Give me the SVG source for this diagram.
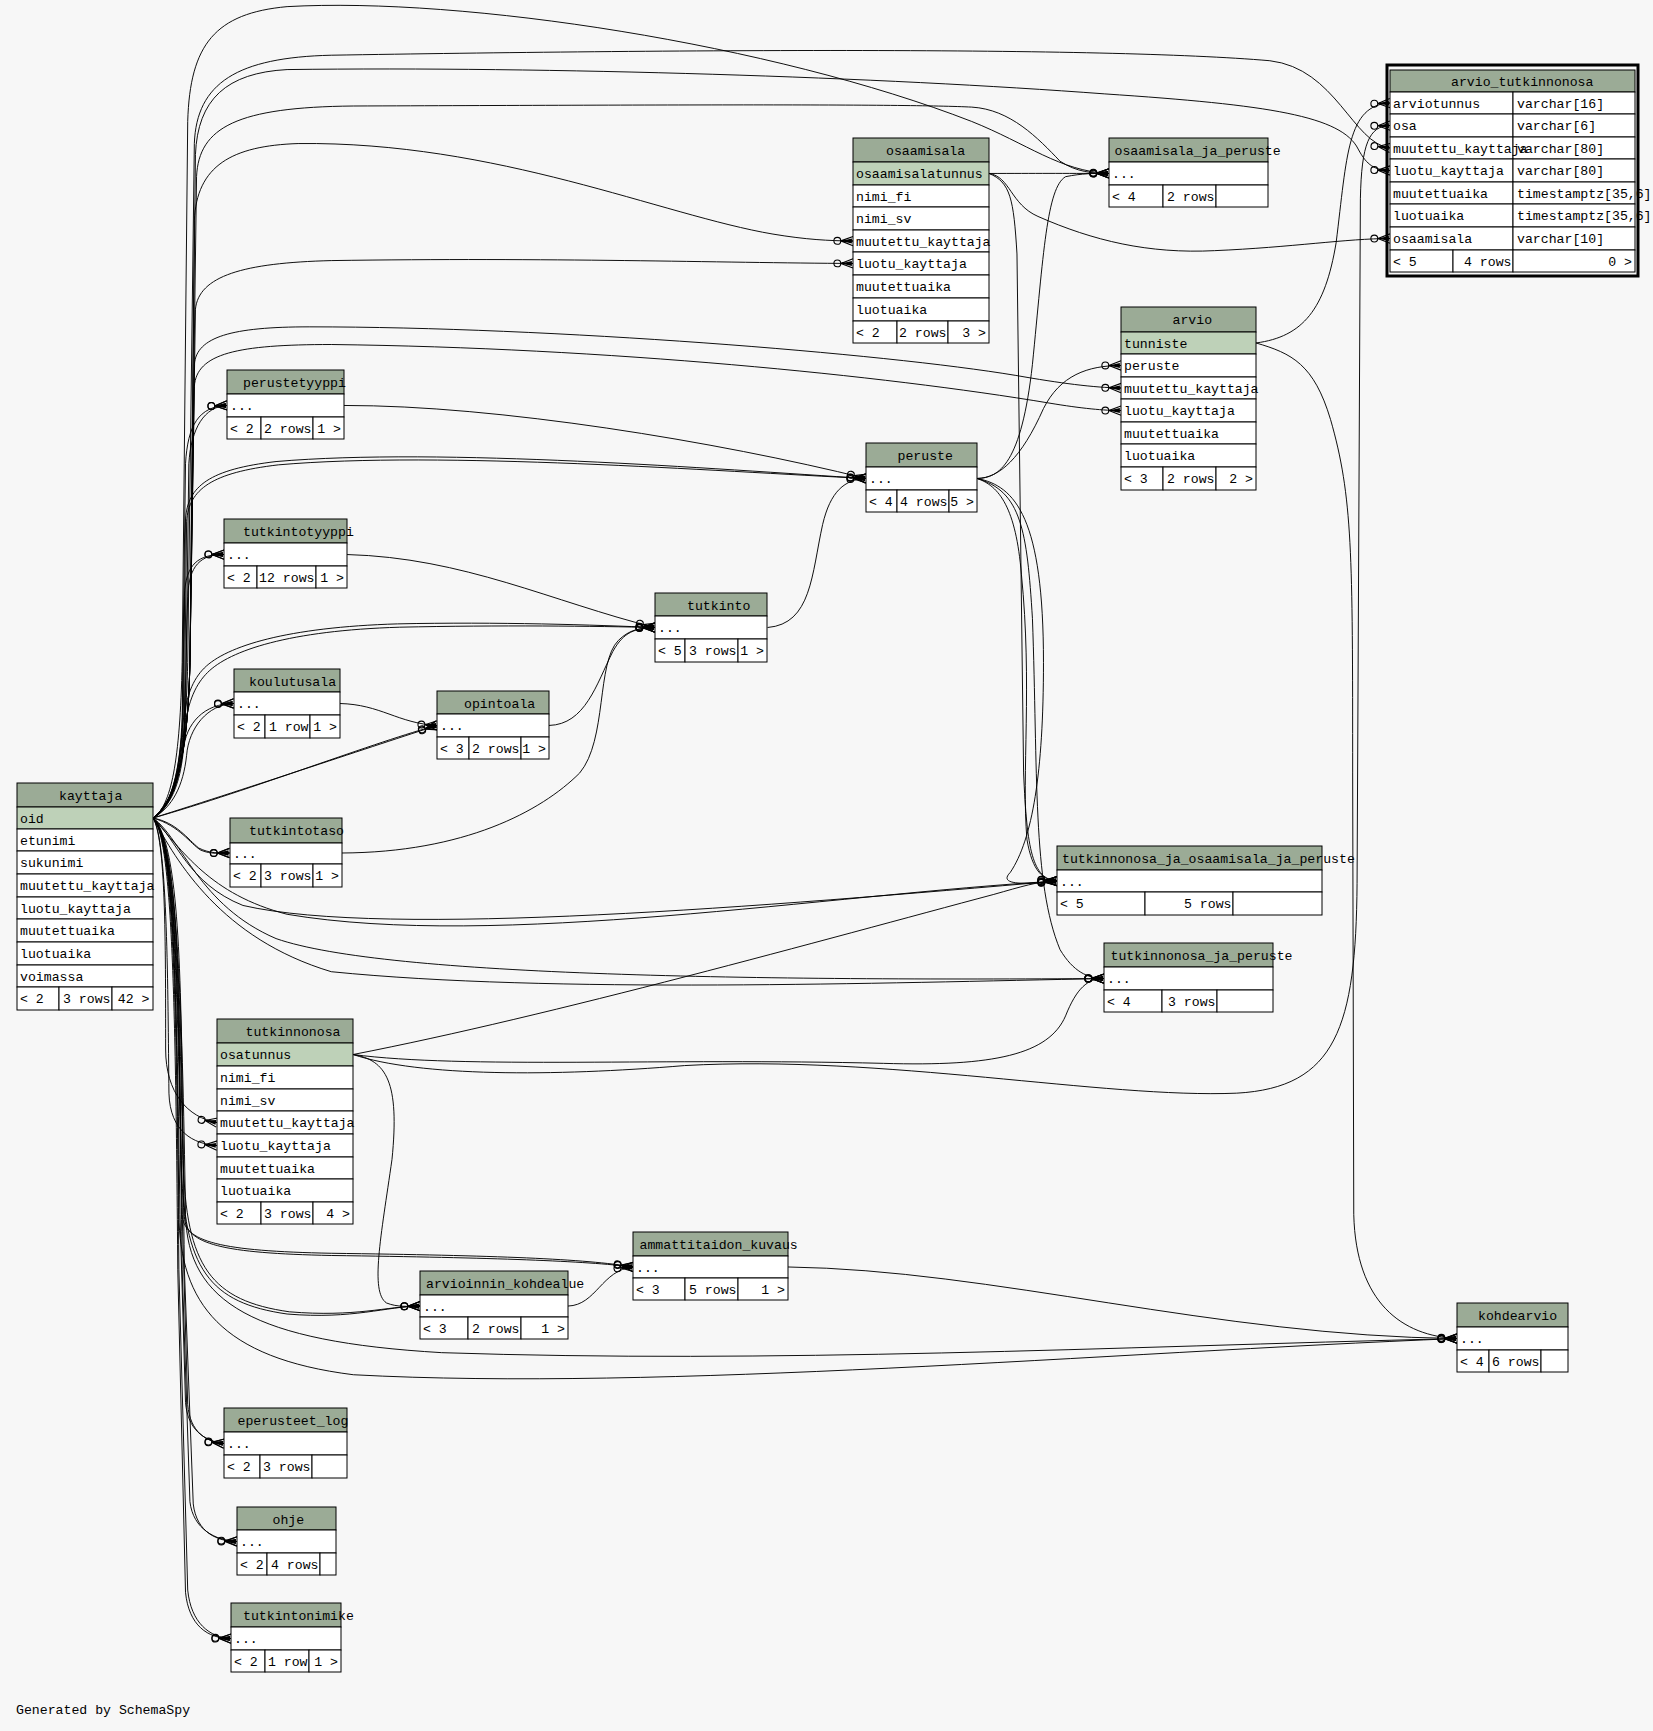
<svg xmlns="http://www.w3.org/2000/svg" width="1653" height="1731" viewBox="0 0 1653 1731">
<style>
text{font-family:"Liberation Mono","DejaVu Sans Mono",monospace;font-size:13.2px;fill:#000}
.h{fill:#9bab96;stroke:#000;stroke-width:1}
.k{fill:#bed1b8;stroke:#000;stroke-width:1}
.r{fill:#fff;stroke:#000;stroke-width:1}
.e{fill:none;stroke:#000;stroke-width:0.85;marker-end:url(#cf)}
.end{text-anchor:end}
</style>
<defs>
<marker id="cf" markerUnits="userSpaceOnUse" orient="auto" markerWidth="24" markerHeight="14" viewBox="-22 -7 24 14" refX="0" refY="0" overflow="visible">
<path d="M-11,0 L0,-4.2 M-11,0 L0,0 M-11,0 L0,4.2" stroke="#000" stroke-width="1" fill="none"/>
<path d="M-11,0 L-1,-2.2 L-1,2.2 Z" fill="#000"/>
<circle cx="-14.2" cy="0" r="3.1" fill="none" stroke="#000" stroke-width="1"/>
</marker>
</defs>
<rect x="0" y="0" width="1653" height="1731" fill="#f7f7f7"/>

<g id="connectors" transform="scale(1.10421)">
<path class="e" d="M895.7,157.1 C940,157 960,157 1004.3,157.1"/>
<path class="e" d="M895.7,157.1 C915,160 915,185 940,196 C990,218 1040,230 1100,227 C1170,224 1220,216 1258.8,216"/>
<path class="e" d="M895.7,157.1 C915,165 918,180 921,230 L927,700 C930,770 935,796 957.2,797.9"/>
<path class="e" d="M1137.5,310.6 C1180,305 1200,280 1210,220 C1220,140 1220,95 1258.8,93.3"/>
<path class="e" d="M1137.5,310.6 C1170,320 1190,330 1205,380 C1225,450 1225,500 1225,700 L1226,1100 C1228,1180 1270,1210 1319.5,1212.2"/>
<path class="e" d="M319.7,955 C380,975 500,975 620,965 C800,955 1000,995 1120,990 C1210,985 1228,930 1229,800 L1232,180 C1233,130 1240,114 1258.8,113.7"/>
<path class="e" d="M319.7,955 C500,920 750,850 900,810 C925,803 940,798 957.2,797.9"/>
<path class="e" d="M319.7,955 C420,968 600,958 800,963 C900,966 950,955 965,920 C975,895 985,886 999.8,886.2"/>
<path class="e" d="M319.7,955 C350,960 362,980 355,1050 C345,1120 335,1170 350,1180 C360,1184 370,1183 380.4,1182.8"/>
<path class="e" d="M884.8,433.3 C905,433 925,415 945,370 C960,340 985,331 1015.2,331"/>
<path class="e" d="M884.8,433.3 C905,433 925,420 935,330 C945,230 948,170 965,160 C980,157 990,157 1004.3,157.1"/>
<path class="e" d="M884.8,433.3 C905,440 920,460 925,520 C935,620 925,700 930,760 C935,790 945,797 957.2,797.9"/>
<path class="e" d="M884.8,433.3 C920,440 945,470 945,600 C945,700 935,760 915,790 C905,800 920,802 957.2,797.9"/>
<path class="e" d="M884.8,433.3 C925,445 930,480 935,560 C940,700 935,800 960,860 C972,880 985,886 999.8,886.2"/>
<path class="e" d="M311.5,367.2 C450,367 650,400 784.3,433.3"/>
<path class="e" d="M695.1,568.3 C735,565 735,520 745,475 C752,445 765,434 784.3,433.3"/>
<path class="e" d="M314.3,502.2 C420,505 500,545 593.2,568.3"/>
<path class="e" d="M497.2,657 C530,656 540,620 555,590 C565,572 575,569 593.2,568.3"/>
<path class="e" d="M309.4,772.5 C420,772 490,735 525,700 C550,670 540,600 560,580 C570,570 580,568.5 593.2,568.3"/>
<path class="e" d="M307.6,637.1 C345,638 360,655 395.8,657"/>
<path class="e" d="M514.4,1182.8 C540,1182 545,1150 573.3,1147.4"/>
<path class="e" d="M713.6,1147.4 C900,1150 1100,1210 1319.5,1212.2"/>
<path class="e" d="M138.6,740.8 C155,730 163,690 165,600 L170,110 C172,40 195,12 260,6 C420,-3 700,40 880,110 C930,130 960,155 1004.3,157.1"/>
<path class="e" d="M138.6,740.8 C158,728 170,690 172,600 L178,160 C180,115 215,97 320,96 C600,95 820,94 880,97 C915,99 940,125 960,146 C975,156 990,157 1004.3,157.1"/>
<path class="e" d="M138.6,740.8 C157,728 168,690 170,600 L176,130 C178,75 215,52 300,50 C600,45 1000,42 1150,55 C1210,62 1225,130 1258.8,134"/>
<path class="e" d="M138.6,740.8 C158,728 170,690 172,600 L177,140 C179,90 205,66 260,63 C500,60 800,70 1000,85 C1150,95 1215,105 1230,135 C1238,150 1245,154 1258.8,154.4"/>
<path class="e" d="M138.6,740.8 C158,725 170,690 172,600 L176,200 C178,150 210,132 270,130 C450,128 600,195 700,212 C730,217 750,218 772.5,218.3"/>
<path class="e" d="M138.6,740.8 C158,725 170,690 172,600 L177,280 C180,250 220,238 300,236 C500,233 650,238 772.5,238.6"/>
<path class="e" d="M138.6,740.8 C158,725 170,690 172,600 L176,330 C178,305 210,296 280,296 C500,296 800,320 920,340 C960,347 990,351 1015.2,351.4"/>
<path class="e" d="M138.6,740.8 C158,725 170,690 172,600 L176,350 C178,320 215,312 300,312 C550,315 800,340 950,365 C980,370 1000,371.8 1015.2,371.8"/>
<path class="e" d="M138.6,740.8 C155,730 163,700 165,650 L168,420 C170,385 180,368 205.6,367.2"/>
<path class="e" d="M138.6,740.8 C156,730 166,700 168,650 L171,420 C173,388 185,368 205.6,367.2"/>
<path class="e" d="M138.6,740.8 C156,728 165,700 166,650 L168,470 C170,440 190,425 250,418 C400,405 650,425 784.3,433.3"/>
<path class="e" d="M138.6,740.8 C157,728 166,700 167,650 L169,472 C171,443 192,428 252,421 C400,408 650,427 784.3,433.3"/>
<path class="e" d="M138.6,740.8 C156,730 163,700 165,660 L167,540 C168,510 180,502 202.9,502.2"/>
<path class="e" d="M138.6,740.8 C157,730 165,700 167,660 L170,540 C171,512 182,502 202.9,502.2"/>
<path class="e" d="M138.6,740.8 C155,732 162,700 165,660 C168,630 175,615 185,605 C205,585 260,568 360,565 C450,563 540,566 593.2,568.3"/>
<path class="e" d="M138.6,740.8 C156,732 164,700 167,662 C170,634 178,619 188,609 C208,589 262,571 362,568 C452,566 540,567 593.2,568.3"/>
<path class="e" d="M138.6,740.8 C155,730 163,710 166,680 C168,655 185,637 211.6,637.1"/>
<path class="e" d="M138.6,740.8 C156,731 166,712 169,684 C171,659 188,638 211.6,637.1"/>
<path class="e" d="M138.6,740.8 C230,712 340,675 395.8,657"/>
<path class="e" d="M138.6,740.8 C226,716 345,670 395.8,657"/>
<path class="e" d="M138.6,740.8 C160,745 170,760 180,768 C190,773 198,772.5 207.8,772.5"/>
<path class="e" d="M138.6,740.8 C163,748 172,764 182,770 C192,774 199,772.5 207.8,772.5"/>
<path class="e" d="M138.6,740.8 C160,760 170,800 220,820 C350,850 700,820 957.2,797.9"/>
<path class="e" d="M138.6,740.8 C165,770 190,810 260,828 C450,860 750,810 957.2,797.9"/>
<path class="e" d="M138.6,740.8 C165,760 180,820 250,850 C350,885 700,888 999.8,886.2"/>
<path class="e" d="M138.6,740.8 C160,780 200,850 300,880 C500,900 800,890 999.8,886.2"/>
<path class="e" d="M138.6,740.8 C150,760 150,850 150,950 C150,990 170,1012 196.5,1016.6"/>
<path class="e" d="M138.6,740.8 C152,760 152,900 153,990 C154,1025 175,1036 196.5,1037.4"/>
<path class="e" d="M138.6,740.8 C158,760 162,850 163,1000 L165,1100 C166,1125 200,1133 300,1135 C450,1137 530,1140 573.3,1147.4"/>
<path class="e" d="M138.6,740.8 C159,760 164,850 165,1000 L167,1102 C168,1127 202,1135 300,1137 C450,1139 530,1142 573.3,1147.4"/>
<path class="e" d="M138.6,740.8 C158,760 162,900 164,1050 C166,1150 190,1180 260,1190 C320,1195 350,1183 380.4,1182.8"/>
<path class="e" d="M138.6,740.8 C159,760 164,900 166,1050 C168,1148 192,1178 262,1188 C322,1193 350,1183 380.4,1182.8"/>
<path class="e" d="M138.6,740.8 C158,760 160,900 162,1100 C163,1180 200,1230 320,1245 C600,1260 1000,1225 1319.5,1212.2"/>
<path class="e" d="M138.6,740.8 C160,760 165,900 168,1100 C170,1180 230,1215 400,1225 C700,1235 1000,1220 1319.5,1212.2"/>
<path class="e" d="M138.6,740.8 C158,760 160,900 163,1100 L168,1270 C170,1295 185,1305 202.9,1307.3"/>
<path class="e" d="M138.6,740.8 C159,760 162,900 165,1100 L170,1272 C172,1297 187,1306 202.9,1307.3"/>
<path class="e" d="M138.6,740.8 C158,760 162,900 165,1150 L172,1360 C175,1385 195,1395 214.6,1396"/>
<path class="e" d="M138.6,740.8 C159,760 164,900 167,1150 L175,1362 C178,1388 197,1396 214.6,1396"/>
<path class="e" d="M138.6,740.8 C157,760 160,900 162,1150 L170,1440 C173,1470 190,1483 209.2,1483.9"/>
<path class="e" d="M138.6,740.8 C156,760 159,900 161,1150 L168,1442 C171,1472 188,1484 209.2,1483.9"/>
</g>

<g id="arvio_tutkinnonosa">
<rect x="1387" y="65" width="251" height="211" fill="none" stroke="#000" stroke-width="3"/>
<rect class="h" x="1390" y="70" width="245" height="22"/>
<text x="1451" y="86">arvio_tutkinnonosa</text>
<rect class="r" x="1390" y="92" width="123" height="22"/><rect class="r" x="1513" y="92" width="122" height="22"/>
<rect class="r" x="1390" y="114" width="123" height="23"/><rect class="r" x="1513" y="114" width="122" height="23"/>
<rect class="r" x="1390" y="137" width="123" height="22"/><rect class="r" x="1513" y="137" width="122" height="22"/>
<rect class="r" x="1390" y="159" width="123" height="23"/><rect class="r" x="1513" y="159" width="122" height="23"/>
<rect class="r" x="1390" y="182" width="123" height="22"/><rect class="r" x="1513" y="182" width="122" height="22"/>
<rect class="r" x="1390" y="204" width="123" height="23"/><rect class="r" x="1513" y="204" width="122" height="23"/>
<rect class="r" x="1390" y="227" width="123" height="23"/><rect class="r" x="1513" y="227" width="122" height="23"/>
<rect class="r" x="1390" y="250" width="63" height="22"/><rect class="r" x="1453" y="250" width="60" height="22"/><rect class="r" x="1513" y="250" width="122" height="22"/>
<text x="1393" y="107.5">arviotunnus</text><text x="1517" y="107.5">varchar[16]</text>
<text x="1393" y="130">osa</text><text x="1517" y="130">varchar[6]</text>
<text x="1393" y="152.5">muutettu_kayttaja</text><text x="1517" y="152.5">varchar[80]</text>
<text x="1393" y="175">luotu_kayttaja</text><text x="1517" y="175">varchar[80]</text>
<text x="1393" y="197.5">muutettuaika</text><text x="1517" y="197.5">timestamptz[35,6]</text>
<text x="1393" y="220">luotuaika</text><text x="1517" y="220">timestamptz[35,6]</text>
<text x="1393" y="243">osaamisala</text><text x="1517" y="243">varchar[10]</text>
<text x="1393" y="265.5">&lt; 5</text><text class="end" x="1511.5" y="265.5">4 rows</text><text class="end" x="1632" y="265.5">0 &gt;</text>
</g>

<g id="osaamisala">
<rect class="h" x="853" y="138" width="136" height="24"/>
<text x="886" y="154.5">osaamisala</text>
<rect class="k" x="853" y="162" width="136" height="23"/><text x="856" y="177.5">osaamisalatunnus</text>
<rect class="r" x="853" y="185" width="136" height="22"/><text x="856" y="200.5">nimi_fi</text>
<rect class="r" x="853" y="207" width="136" height="23"/><text x="856" y="222.5">nimi_sv</text>
<rect class="r" x="853" y="230" width="136" height="22"/><text x="856" y="245.5">muutettu_kayttaja</text>
<rect class="r" x="853" y="252" width="136" height="23"/><text x="856" y="267.5">luotu_kayttaja</text>
<rect class="r" x="853" y="275" width="136" height="23"/><text x="856" y="290.5">muutettuaika</text>
<rect class="r" x="853" y="298" width="136" height="23"/><text x="856" y="313.5">luotuaika</text>
<rect class="r" x="853" y="321" width="44" height="22"/><rect class="r" x="897" y="321" width="51" height="22"/><rect class="r" x="948" y="321" width="41" height="22"/>
<text x="856" y="336.5">&lt; 2</text><text class="end" x="946.5" y="336.5">2 rows</text><text class="end" x="986" y="336.5">3 &gt;</text>
</g>

<g id="osaamisala_ja_peruste">
<rect class="h" x="1109" y="138" width="159" height="24"/>
<text x="1114.5" y="154.5">osaamisala_ja_peruste</text>
<rect class="r" x="1109" y="162" width="159" height="23"/><text x="1112" y="177.5">...</text>
<rect class="r" x="1109" y="185" width="54" height="22"/><rect class="r" x="1163" y="185" width="53" height="22"/><rect class="r" x="1216" y="185" width="52" height="22"/>
<text x="1112" y="200.5">&lt; 4</text><text class="end" x="1214.5" y="200.5">2 rows</text>
</g>

<g id="arvio">
<rect class="h" x="1121" y="307" width="135" height="25"/>
<text x="1172.5" y="324">arvio</text>
<rect class="k" x="1121" y="332" width="135" height="22"/><text x="1124" y="347.5">tunniste</text>
<rect class="r" x="1121" y="354" width="135" height="23"/><text x="1124" y="369.5">peruste</text>
<rect class="r" x="1121" y="377" width="135" height="22"/><text x="1124" y="392.5">muutettu_kayttaja</text>
<rect class="r" x="1121" y="399" width="135" height="23"/><text x="1124" y="414.5">luotu_kayttaja</text>
<rect class="r" x="1121" y="422" width="135" height="22"/><text x="1124" y="437.5">muutettuaika</text>
<rect class="r" x="1121" y="444" width="135" height="23"/><text x="1124" y="459.5">luotuaika</text>
<rect class="r" x="1121" y="467" width="42" height="23"/><rect class="r" x="1163" y="467" width="53" height="23"/><rect class="r" x="1216" y="467" width="40" height="23"/>
<text x="1124" y="482.5">&lt; 3</text><text class="end" x="1214.5" y="482.5">2 rows</text><text class="end" x="1253" y="482.5">2 &gt;</text>
</g>

<g id="perustetyyppi">
<rect class="h" x="227" y="370" width="117" height="24"/>
<text x="243" y="386.5">perustetyyppi</text>
<rect class="r" x="227" y="394" width="117" height="23"/><text x="230" y="409.5">...</text>
<rect class="r" x="227" y="417" width="34" height="22"/><rect class="r" x="261" y="417" width="52" height="22"/><rect class="r" x="313" y="417" width="31" height="22"/>
<text x="230" y="432.5">&lt; 2</text><text class="end" x="311.5" y="432.5">2 rows</text><text class="end" x="341" y="432.5">1 &gt;</text>
</g>

<g id="peruste">
<rect class="h" x="866" y="443" width="111" height="24"/>
<text x="897.5" y="459.5">peruste</text>
<rect class="r" x="866" y="467" width="111" height="23"/><text x="869" y="482.5">...</text>
<rect class="r" x="866" y="490" width="31" height="22"/><rect class="r" x="897" y="490" width="52" height="22"/><rect class="r" x="949" y="490" width="28" height="22"/>
<text x="869" y="505.5">&lt; 4</text><text class="end" x="947.5" y="505.5">4 rows</text><text class="end" x="974" y="505.5">5 &gt;</text>
</g>

<g id="tutkintotyyppi">
<rect class="h" x="224" y="519" width="123" height="24"/>
<text x="243" y="535.5">tutkintotyyppi</text>
<rect class="r" x="224" y="543" width="123" height="23"/><text x="227" y="558.5">...</text>
<rect class="r" x="224" y="566" width="33" height="22"/><rect class="r" x="257" y="566" width="59" height="22"/><rect class="r" x="316" y="566" width="31" height="22"/>
<text x="227" y="581.5">&lt; 2</text><text class="end" x="314.5" y="581.5">12 rows</text><text class="end" x="344" y="581.5">1 &gt;</text>
</g>

<g id="tutkinto">
<rect class="h" x="655" y="593" width="112" height="23"/>
<text x="687" y="609.5">tutkinto</text>
<rect class="r" x="655" y="616" width="112" height="23"/><text x="658" y="631.5">...</text>
<rect class="r" x="655" y="639" width="30" height="23"/><rect class="r" x="685" y="639" width="53" height="23"/><rect class="r" x="738" y="639" width="29" height="23"/>
<text x="658" y="654.5">&lt; 5</text><text class="end" x="736.5" y="654.5">3 rows</text><text class="end" x="764" y="654.5">1 &gt;</text>
</g>

<g id="koulutusala">
<rect class="h" x="234" y="669" width="106" height="23"/>
<text x="249" y="685.5">koulutusala</text>
<rect class="r" x="234" y="692" width="106" height="23"/><text x="237" y="707.5">...</text>
<rect class="r" x="234" y="715" width="31" height="23"/><rect class="r" x="265" y="715" width="45" height="23"/><rect class="r" x="310" y="715" width="30" height="23"/>
<text x="237" y="730.5">&lt; 2</text><text class="end" x="308.5" y="730.5">1 row</text><text class="end" x="337" y="730.5">1 &gt;</text>
</g>

<g id="opintoala">
<rect class="h" x="437" y="691" width="112" height="23"/>
<text x="464" y="707.5">opintoala</text>
<rect class="r" x="437" y="714" width="112" height="23"/><text x="440" y="729.5">...</text>
<rect class="r" x="437" y="737" width="32" height="22"/><rect class="r" x="469" y="737" width="52" height="22"/><rect class="r" x="521" y="737" width="28" height="22"/>
<text x="440" y="752.5">&lt; 3</text><text class="end" x="519.5" y="752.5">2 rows</text><text class="end" x="546" y="752.5">1 &gt;</text>
</g>

<g id="tutkintotaso">
<rect class="h" x="230" y="818" width="112" height="25"/>
<text x="249" y="835">tutkintotaso</text>
<rect class="r" x="230" y="843" width="112" height="21"/><text x="233" y="858">...</text>
<rect class="r" x="230" y="864" width="31" height="23"/><rect class="r" x="261" y="864" width="52" height="23"/><rect class="r" x="313" y="864" width="29" height="23"/>
<text x="233" y="880">&lt; 2</text><text class="end" x="311.5" y="880">3 rows</text><text class="end" x="339" y="880">1 &gt;</text>
</g>

<g id="tutkinnonosa_ja_osaamisala_ja_peruste">
<rect class="h" x="1057" y="846" width="265" height="24"/>
<text x="1062" y="862.5">tutkinnonosa_ja_osaamisala_ja_peruste</text>
<rect class="r" x="1057" y="870" width="265" height="22"/><text x="1060" y="885.5">...</text>
<rect class="r" x="1057" y="892" width="88" height="23"/><rect class="r" x="1145" y="892" width="88" height="23"/><rect class="r" x="1233" y="892" width="89" height="23"/>
<text x="1060" y="908">&lt; 5</text><text class="end" x="1231.5" y="908">5 rows</text>
</g>

<g id="tutkinnonosa_ja_peruste">
<rect class="h" x="1104" y="943" width="169" height="24"/>
<text x="1110.5" y="959.5">tutkinnonosa_ja_peruste</text>
<rect class="r" x="1104" y="967" width="169" height="23"/><text x="1107" y="982.5">...</text>
<rect class="r" x="1104" y="990" width="58" height="22"/><rect class="r" x="1162" y="990" width="55" height="22"/><rect class="r" x="1217" y="990" width="56" height="22"/>
<text x="1107" y="1005.5">&lt; 4</text><text class="end" x="1215.5" y="1005.5">3 rows</text>
</g>

<g id="kayttaja">
<rect class="h" x="17" y="783" width="136" height="24"/>
<text x="59" y="799.5">kayttaja</text>
<rect class="k" x="17" y="807" width="136" height="22"/><text x="20" y="822.5">oid</text>
<rect class="r" x="17" y="829" width="136" height="22"/><text x="20" y="844.5">etunimi</text>
<rect class="r" x="17" y="851" width="136" height="23"/><text x="20" y="866.5">sukunimi</text>
<rect class="r" x="17" y="874" width="136" height="23"/><text x="20" y="889.5">muutettu_kayttaja</text>
<rect class="r" x="17" y="897" width="136" height="22"/><text x="20" y="912.5">luotu_kayttaja</text>
<rect class="r" x="17" y="919" width="136" height="23"/><text x="20" y="934.5">muutettuaika</text>
<rect class="r" x="17" y="942" width="136" height="23"/><text x="20" y="957.5">luotuaika</text>
<rect class="r" x="17" y="965" width="136" height="22"/><text x="20" y="980.5">voimassa</text>
<rect class="r" x="17" y="987" width="42" height="23"/><rect class="r" x="59" y="987" width="53" height="23"/><rect class="r" x="112" y="987" width="41" height="23"/>
<text x="20" y="1003">&lt; 2</text><text class="end" x="110.5" y="1003">3 rows</text><text class="end" x="149.5" y="1003">42 &gt;</text>
</g>

<g id="tutkinnonosa">
<rect class="h" x="217" y="1019" width="136" height="24"/>
<text x="245.5" y="1035.5">tutkinnonosa</text>
<rect class="k" x="217" y="1043" width="136" height="23"/><text x="220" y="1058.5">osatunnus</text>
<rect class="r" x="217" y="1066" width="136" height="23"/><text x="220" y="1081.5">nimi_fi</text>
<rect class="r" x="217" y="1089" width="136" height="22"/><text x="220" y="1104.5">nimi_sv</text>
<rect class="r" x="217" y="1111" width="136" height="23"/><text x="220" y="1126.5">muutettu_kayttaja</text>
<rect class="r" x="217" y="1134" width="136" height="23"/><text x="220" y="1149.5">luotu_kayttaja</text>
<rect class="r" x="217" y="1157" width="136" height="22"/><text x="220" y="1172.5">muutettuaika</text>
<rect class="r" x="217" y="1179" width="136" height="23"/><text x="220" y="1194.5">luotuaika</text>
<rect class="r" x="217" y="1202" width="44" height="22"/><rect class="r" x="261" y="1202" width="52" height="22"/><rect class="r" x="313" y="1202" width="40" height="22"/>
<text x="220" y="1217.5">&lt; 2</text><text class="end" x="311.5" y="1217.5">3 rows</text><text class="end" x="350" y="1217.5">4 &gt;</text>
</g>

<g id="ammattitaidon_kuvaus">
<rect class="h" x="633" y="1232" width="155" height="24"/>
<text x="639.5" y="1248.5">ammattitaidon_kuvaus</text>
<rect class="r" x="633" y="1256" width="155" height="22"/><text x="636" y="1271.5">...</text>
<rect class="r" x="633" y="1278" width="52" height="22"/><rect class="r" x="685" y="1278" width="53" height="22"/><rect class="r" x="738" y="1278" width="50" height="22"/>
<text x="636" y="1293.5">&lt; 3</text><text class="end" x="736.5" y="1293.5">5 rows</text><text class="end" x="785" y="1293.5">1 &gt;</text>
</g>

<g id="arvioinnin_kohdealue">
<rect class="h" x="420" y="1271" width="148" height="24"/>
<text x="426" y="1287.5">arvioinnin_kohdealue</text>
<rect class="r" x="420" y="1295" width="148" height="22"/><text x="423" y="1310.5">...</text>
<rect class="r" x="420" y="1317" width="48" height="22"/><rect class="r" x="468" y="1317" width="53" height="22"/><rect class="r" x="521" y="1317" width="47" height="22"/>
<text x="423" y="1332.5">&lt; 3</text><text class="end" x="519.5" y="1332.5">2 rows</text><text class="end" x="565" y="1332.5">1 &gt;</text>
</g>

<g id="kohdearvio">
<rect class="h" x="1457" y="1303" width="111" height="24"/>
<text x="1478" y="1319.5">kohdearvio</text>
<rect class="r" x="1457" y="1327" width="111" height="23"/><text x="1460" y="1342.5">...</text>
<rect class="r" x="1457" y="1350" width="32" height="22"/><rect class="r" x="1489" y="1350" width="52" height="22"/><rect class="r" x="1541" y="1350" width="27" height="22"/>
<text x="1460" y="1365.5">&lt; 4</text><text class="end" x="1539.5" y="1365.5">6 rows</text>
</g>

<g id="eperusteet_log">
<rect class="h" x="224" y="1408" width="123" height="24"/>
<text x="237.5" y="1424.5">eperusteet_log</text>
<rect class="r" x="224" y="1432" width="123" height="23"/><text x="227" y="1447.5">...</text>
<rect class="r" x="224" y="1455" width="36" height="23"/><rect class="r" x="260" y="1455" width="52" height="23"/><rect class="r" x="312" y="1455" width="35" height="23"/>
<text x="227" y="1471">&lt; 2</text><text class="end" x="310.5" y="1471">3 rows</text>
</g>

<g id="ohje">
<rect class="h" x="237" y="1507" width="99" height="23"/>
<text x="272.5" y="1523.5">ohje</text>
<rect class="r" x="237" y="1530" width="99" height="23"/><text x="240" y="1545.5">...</text>
<rect class="r" x="237" y="1553" width="30" height="22"/><rect class="r" x="267" y="1553" width="53" height="22"/><rect class="r" x="320" y="1553" width="16" height="22"/>
<text x="240" y="1568.5">&lt; 2</text><text class="end" x="318.5" y="1568.5">4 rows</text>
</g>

<g id="tutkintonimike">
<rect class="h" x="231" y="1603" width="110" height="24"/>
<text x="243" y="1619.5">tutkintonimike</text>
<rect class="r" x="231" y="1627" width="110" height="23"/><text x="234" y="1642.5">...</text>
<rect class="r" x="231" y="1650" width="34" height="22"/><rect class="r" x="265" y="1650" width="44" height="22"/><rect class="r" x="309" y="1650" width="32" height="22"/>
<text x="234" y="1665.5">&lt; 2</text><text class="end" x="307.5" y="1665.5">1 row</text><text class="end" x="338" y="1665.5">1 &gt;</text>
</g>

<text x="16" y="1714">Generated by SchemaSpy</text>
</svg>
